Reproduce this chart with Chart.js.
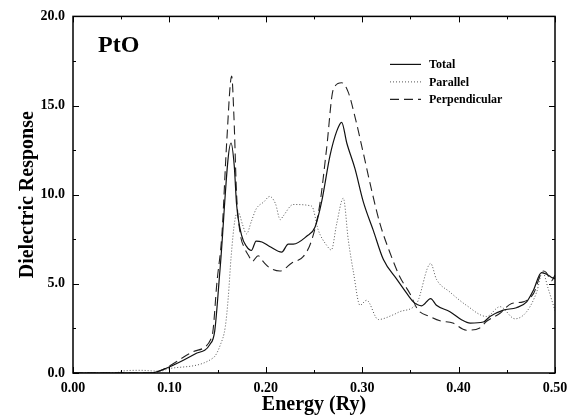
<!DOCTYPE html>
<html>
<head>
<meta charset="utf-8">
<script src="https://cdn.jsdelivr.net/npm/chart.js@4.4.1/dist/chart.umd.min.js"></script>
<style>
  html, body { margin: 0; padding: 0; background: #fff; }
  #wrap { width: 579px; height: 417px; position: relative; }
</style>
</head>
<body>
<div id="wrap"><canvas id="chart"></canvas></div>
<script>
// Dielectric response of PtO vs energy
const xTicks = [0, 0.1, 0.2, 0.3, 0.4, 0.5];
const yTicks = [0, 5, 10, 15, 20];

const totalE = [0, 0.08, 0.087, 0.1266, 0.142, 0.147, 0.1525, 0.1639, 0.1673, 0.1697, 0.175, 0.18, 0.185, 0.19, 0.196, 0.204, 0.2165, 0.2233, 0.2285, 0.2424, 0.251, 0.258, 0.2666, 0.2735, 0.2787, 0.284, 0.2925, 0.301, 0.3115, 0.322, 0.3358, 0.349, 0.353, 0.3617, 0.371, 0.377, 0.391, 0.403, 0.412, 0.4256, 0.4325, 0.4464, 0.46, 0.4706, 0.4775, 0.486, 0.4914, 0.4965, 0.5];
const totalV = [0, 0, 0.07, 1.07, 1.6, 2.35, 5.8, 12.9, 11.6, 9.45, 7.7, 7.1, 6.87, 7.4, 7.35, 7.1, 6.78, 7.23, 7.23, 7.67, 8.18, 9.63, 12.19, 13.55, 14.06, 12.9, 11.46, 9.63, 8.0, 6.36, 5.26, 4.26, 3.99, 3.77, 4.17, 3.8, 3.44, 2.99, 2.8, 2.86, 3.17, 3.53, 3.66, 3.99, 4.63, 5.63, 5.54, 5.36, 5.3];

const parE = [0, 0.045, 0.05, 0.07, 0.09, 0.1, 0.1455, 0.153, 0.158, 0.161, 0.164, 0.168, 0.1715, 0.176, 0.18, 0.185, 0.19, 0.198, 0.204, 0.21, 0.215, 0.218, 0.2285, 0.2476, 0.2545, 0.263, 0.268, 0.2735, 0.2804, 0.2856, 0.291, 0.2977, 0.3046, 0.3167, 0.332, 0.339, 0.3565, 0.371, 0.377, 0.391, 0.408, 0.429, 0.443, 0.4585, 0.4706, 0.481, 0.487, 0.493, 0.5];
const parV = [0, 0, 0.1, 0.15, 0.1, 0.25, 0.85, 1.6, 2.6, 4.2, 6.5, 8.6, 9.0, 8.3, 7.8, 8.5, 9.2, 9.6, 9.9, 9.5, 8.6, 8.8, 9.45, 9.36, 8.0, 7.17, 6.9, 8.36, 9.8, 7.45, 5.63, 3.8, 4.08, 3.0, 3.26, 3.44, 3.9, 6.14, 5.26, 4.54, 3.8, 3.17, 3.72, 3.04, 3.44, 4.54, 5.67, 4.72, 3.5];

const perpE = [0, 0.08, 0.087, 0.125, 0.1439, 0.1455, 0.149, 0.1545, 0.1594, 0.1646, 0.167, 0.1697, 0.1735, 0.178, 0.182, 0.186, 0.192, 0.198, 0.204, 0.2147, 0.227, 0.239, 0.2476, 0.256, 0.263, 0.27, 0.2787, 0.2856, 0.2925, 0.301, 0.31, 0.3185, 0.329, 0.339, 0.3496, 0.358, 0.3703, 0.3807, 0.394, 0.408, 0.422, 0.429, 0.443, 0.455, 0.467, 0.4775, 0.488, 0.491, 0.4965, 0.5];
const perpV = [0, 0, 0.05, 1.2, 2.0, 2.5, 4.9, 7.8, 12.9, 16.65, 14.3, 10.0, 7.8, 7.0, 6.6, 6.26, 6.58, 6.2, 5.9, 5.72, 6.17, 6.54, 7.45, 9.45, 12.55, 15.9, 16.28, 15.74, 14.37, 12.37, 10.2, 8.36, 6.72, 5.4, 4.44, 3.53, 3.17, 2.93, 2.8, 2.4, 2.53, 2.9, 3.35, 3.9, 3.99, 4.44, 5.72, 5.63, 5.17, 5.5];

const seriesNames = ["Total", "Parallel", "Perpendicular"];

const zip = (xs, ys) => xs.map((x, i) => ({ x: x, y: ys[i] }));
const serif = "'Liberation Serif', 'DejaVu Serif', serif";

// inward tick marks, frame box, inner label and legend
const framePlugin = {
  id: "frame",
  afterDraw(chart) {
    const { ctx, chartArea: a, scales } = chart;
    ctx.save();
    ctx.strokeStyle = "#000";
    ctx.lineWidth = 1.5;
    ctx.strokeRect(a.left, a.top, a.right - a.left, a.bottom - a.top);
    ctx.lineWidth = 1;
    const xs = scales.x, ys = scales.y;
    for (let i = 0; i <= 10; i++) {
      const px = Math.round(xs.getPixelForValue(i * 0.05)) + 0.5;
      const len = i % 2 === 0 ? 6 : 3;
      ctx.beginPath();
      ctx.moveTo(px, a.bottom); ctx.lineTo(px, a.bottom - len);
      ctx.moveTo(px, a.top); ctx.lineTo(px, a.top + len);
      ctx.stroke();
    }
    for (let i = 0; i <= 8; i++) {
      const py = Math.round(ys.getPixelForValue(i * 2.5)) + 0.5;
      const len = i % 2 === 0 ? 6 : 3;
      ctx.beginPath();
      ctx.moveTo(a.left, py); ctx.lineTo(a.left + len, py);
      ctx.moveTo(a.right, py); ctx.lineTo(a.right - len, py);
      ctx.stroke();
    }
    ctx.fillStyle = "#000";
    ctx.font = "bold 24px " + serif;
    ctx.textBaseline = "alphabetic";
    ctx.fillText("PtO", a.left + 25, a.top + 36);
    ctx.font = "bold 12px " + serif;
    ctx.textBaseline = "middle";
    chart.data.datasets.forEach((ds, i) => {
      const y = a.top + 48 + i * 17.5;
      ctx.beginPath();
      ctx.strokeStyle = ds.borderColor;
      ctx.lineWidth = ds.borderWidth;
      ctx.setLineDash(ds.borderDash || []);
      ctx.moveTo(a.left + 317, y); ctx.lineTo(a.left + 348, y);
      ctx.stroke();
      ctx.setLineDash([]);
      ctx.fillText(ds.label, a.left + 356, y + 1);
    });
    ctx.restore();
  }
};

new Chart(document.getElementById("chart"), {
  type: "line",
  data: {
    datasets: [
      { label: seriesNames[0], data: zip(totalE, totalV), borderColor: "#111", borderWidth: 1.2 },
      { label: seriesNames[1], data: zip(parE, parV), borderColor: "#555", borderWidth: 1, borderDash: [1, 2] },
      { label: seriesNames[2], data: zip(perpE, perpV), borderColor: "#222", borderWidth: 1.1, borderDash: [9, 5] }
    ]
  },
  options: {
    responsive: true,
    maintainAspectRatio: false,
    animation: false,
    elements: { point: { radius: 0 }, line: { cubicInterpolationMode: "monotone", fill: false } },
    layout: { padding: { top: 7, right: 24, left: 0, bottom: 0 } },
    plugins: { legend: { display: false }, tooltip: { enabled: false } },
    scales: {
      x: {
        type: "linear",
        min: 0, max: 0.5,
        afterBuildTicks: s => { s.ticks = xTicks.map(v => ({ value: v })); },
        afterFit: s => { s.height = 44; },
        grid: { display: false, drawTicks: false },
        border: { display: false },
        ticks: { color: "#000", padding: 7, font: { family: serif, size: 14, weight: "bold" }, callback: v => v.toFixed(2) },
        title: { display: true, text: "Energy (Ry)", color: "#000", padding: { top: 0, bottom: 0 }, font: { family: serif, size: 20, weight: "bold" } }
      },
      y: {
        min: 0, max: 20,
        afterBuildTicks: s => { s.ticks = yTicks.map(v => ({ value: v })); },
        afterFit: s => { s.width = 73; },
        grid: { display: false, drawTicks: false },
        border: { display: false },
        ticks: { color: "#000", padding: 8, font: { family: serif, size: 14, weight: "bold" }, callback: v => v.toFixed(1) },
        title: { display: true, text: "Dielectric Response", color: "#000", padding: { top: 16, bottom: 0 }, font: { family: serif, size: 20, weight: "bold" } }
      }
    }
  },
  plugins: [framePlugin]
});
</script>
</body>
</html>
